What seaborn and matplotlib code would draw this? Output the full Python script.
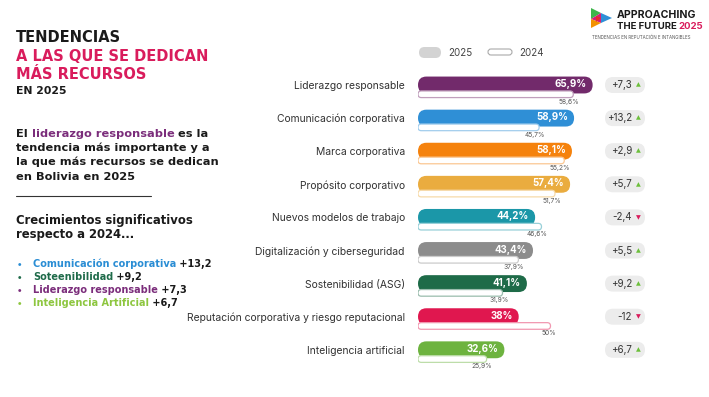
import matplotlib.pyplot as plt
import numpy as np
import seaborn as sns
from matplotlib.colors import to_rgb
from matplotlib.patches import FancyBboxPatch, Polygon

# --- datos ---
categories = [
    "Liderazgo responsable",
    "Comunicación corporativa",
    "Marca corporativa",
    "Propósito corporativo",
    "Nuevos modelos de trabajo",
    "Digitalización y ciberseguridad",
    "Sostenibilidad (ASG)",
    "Reputación corporativa y riesgo reputacional",
    "Inteligencia artificial",
]
values_2025 = [65.9, 58.9, 58.1, 57.4, 44.2, 43.4, 41.1, 38.0, 32.6]
values_2024 = [58.6, 45.7, 55.2, 51.7, 46.6, 37.9, 31.9, 50.0, 25.9]
labels_2025 = ["65,9%", "58,9%", "58,1%", "57,4%", "44,2%", "43,4%", "41,1%", "38%", "32,6%"]
labels_2024 = ["58,6%", "45,7%", "55,2%", "51,7%", "46,6%", "37,9%", "31,9%", "50%", "25,9%"]
delta_labels = ["+7,3", "+13,2", "+2,9", "+5,7", "-2,4", "+5,5", "+9,2", "-12", "+6,7"]
delta_up = [True, True, True, True, False, True, True, False, True]
bar_colors = ["#722a6b", "#2f8fd6", "#f5820d", "#eaac3f", "#1b97a8",
              "#8c8c8c", "#1e6b48", "#e0174f", "#6db33f"]

CRIMSON = "#d91c5c"
PURPLE = "#7b2d7b"
DARK = "#1a1a1a"
GREEN_UP = "#6cbf3b"

W, H = 709, 397
sns.set_theme(style="white")
plt.rcParams["font.family"] = ["Inter", "DejaVu Sans"]
TITLE_FONT = ["DejaVu Sans"]

fig = plt.figure(figsize=(W / 100, H / 100), dpi=100)
fig.patch.set_facecolor("white")


def fx(x):
    return x / W


def fy(y):
    return 1 - y / H


# --- ejes de barras (escala en px) ---
AX_L, AX_R, AX_T, AX_B = 418, 700, 68, 370
PX_X = 2.65      # px por punto porcentual
ROW_PX = 33.1    # px entre filas
ROW0 = 85        # centro de la primera fila (px)
ax = fig.add_axes([fx(AX_L), fy(AX_B), (AX_R - AX_L) / W, (AX_B - AX_T) / H])

sns.barplot(x=values_2025, y=categories, hue=categories, palette=bar_colors,
            legend=False, orient="h", width=0.51, saturation=1, ax=ax)
aspect = PX_X / ROW_PX


def to_pills(patches, face=None, edge=None, lw=0, z=2):
    for k, p in enumerate(list(patches)):
        x0, y0, w, h = p.get_x(), p.get_y(), p.get_width(), p.get_height()
        fc = p.get_facecolor() if face is None else face[k]
        p.remove()
        r = h / aspect / 2
        ax.add_patch(FancyBboxPatch(
            (x0, y0), w, h, boxstyle=f"round,pad=0,rounding_size={r}",
            mutation_aspect=aspect, fc=fc,
            ec="none" if edge is None else edge[k], lw=lw, zorder=z))


to_pills(ax.patches)

light = [tuple(0.45 * np.array(to_rgb(c)) + 0.55) for c in bar_colors]
bars24 = ax.barh(np.arange(len(categories)) + 0.28, values_2024, height=0.2)
to_pills(bars24.patches, face=["white"] * len(categories), edge=light, lw=0.9, z=3)

for i in range(len(categories)):
    ax.text(values_2025[i] - 2.3, i - 0.03, labels_2025[i], ha="right", va="center",
            color="white", fontsize=7, fontweight="bold", zorder=5)
    ax.text(values_2024[i] + 2.2, i + 0.5, labels_2024[i], ha="right", va="center",
            color="#555555", fontsize=4.8, zorder=5)
    # píldora de variación
    ph = 16 / ROW_PX
    ax.add_patch(FancyBboxPatch(
        ((605 - AX_L) / PX_X, i - ph / 2), 40 / PX_X, ph,
        boxstyle=f"round,pad=0,rounding_size={ph / aspect / 2}",
        mutation_aspect=aspect, fc="#ececec", ec="none", zorder=2))
    ax.text((632 - AX_L) / PX_X, i, delta_labels[i], ha="right", va="center",
            fontsize=7, color="#333333", zorder=5)
    ax.text((638 - AX_L) / PX_X, i, "▲" if delta_up[i] else "▼", ha="center",
            va="center", fontsize=4.5, family=["DejaVu Sans"],
            color=GREEN_UP if delta_up[i] else CRIMSON, zorder=5)

ax.set_xlim(0, (AX_R - AX_L) / PX_X)
ax.set_ylim((AX_B - ROW0) / ROW_PX, (AX_T - ROW0) / ROW_PX)
ax.set_xticks([])
ax.set_xlabel("")
ax.set_ylabel("")
ax.tick_params(axis="y", length=0, pad=9.5, labelsize=7.45, labelcolor="#333333")
for s in ax.spines.values():
    s.set_visible(False)
ax.set_facecolor("none")

# --- leyenda ---
tr = fig.dpi_scale_trans
fig.add_artist(FancyBboxPatch((4.19, (H - 58) / 100), 0.22, 0.11,
                              boxstyle="round,pad=0,rounding_size=0.055",
                              fc="#d3d3d3", ec="none", transform=tr))
fig.text(fx(448), fy(52.5), "2025", fontsize=7, color="#444444", va="center")
fig.add_artist(FancyBboxPatch((4.88, (H - 55) / 100), 0.24, 0.06,
                              boxstyle="round,pad=0,rounding_size=0.03",
                              fc="white", ec="#aaaaaa", lw=0.8, transform=tr))
fig.text(fx(519), fy(52.5), "2024", fontsize=7, color="#444444", va="center")

# --- textos de la izquierda ---
fig.text(fx(16), fy(42), "TENDENCIAS", fontsize=10.5, fontweight="bold",
         family=TITLE_FONT, color=DARK)
fig.text(fx(16), fy(61), "A LAS QUE SE DEDICAN", fontsize=10.5, fontweight="bold",
         family=TITLE_FONT, color=CRIMSON)
fig.text(fx(16), fy(79), "MÁS RECURSOS", fontsize=10.5, fontweight="bold",
         family=TITLE_FONT, color=CRIMSON)
fig.text(fx(16), fy(94), "EN 2025", fontsize=7.8, fontweight="bold",
         family=TITLE_FONT, color=DARK)

renderer = fig.canvas.get_renderer()


def rich_line(x, y, parts, size, family=TITLE_FONT, gap=0):
    for s, c in parts:
        t = fig.text(fx(x), fy(y), s, color=c, fontsize=size, fontweight="bold",
                     family=family, va="baseline")
        x += t.get_window_extent(renderer).width + gap


rich_line(16, 137, [("El", DARK), (" liderazgo responsable", PURPLE), (" es la", DARK)], 8.2)
rich_line(16, 151, [("tendencia más importante y a", DARK)], 8.2)
rich_line(16, 165, [("la que más recursos se dedican", DARK)], 8.2)
rich_line(16, 180, [("en Bolivia en 2025", DARK)], 8.2)
fig.add_artist(plt.Line2D([fx(16), fx(151)], [fy(196), fy(196)], color="#333333", lw=0.8))

rich_line(16, 224, [("Crecimientos significativos", DARK)], 8.4)
rich_line(16, 238, [("respecto a 2024...", DARK)], 8.4)

bullets = [
    ("Comunicación corporativa", "#2a8dd4", " +13,2"),
    ("Soteenibilidad", "#1f6b4a", " +9,2"),
    ("Liderazgo responsable", PURPLE, " +7,3"),
    ("Inteligencia Artificial", "#8dc63f", " +6,7"),
]
for k, (name, col, val) in enumerate(bullets):
    yb = 267 + k * 13
    fig.text(fx(17), fy(yb), "•", color=col, fontsize=7, va="baseline")
    rich_line(33, yb, [(name, col), (val, DARK)], 7.0)

# --- logotipo ---
icon = [
    ([(591, 8), (601, 13), (591, 19)], "#3cb54a"),
    ([(601, 13), (612, 18), (601, 23)], "#2f8fd6"),
    ([(591, 19), (601, 13), (601, 23)], "#d81b7a"),
    ([(591, 19), (601, 23), (591, 28)], "#f39200"),
    ([(596, 16), (601, 18), (596, 22)], "#e52d27"),
]
for pts, col in icon:
    fig.add_artist(Polygon([(px / 100, (H - py) / 100) for px, py in pts],
                           closed=True, fc=col, ec="none", transform=tr))
rich_line(617, 18, [("APPROACHING", DARK)], 7.6, family=["Inter"])
rich_line(617, 29, [("THE FUTURE", DARK), ("2025", CRIMSON)], 6.9, family=["Inter"], gap=1.5)
fig.text(fx(592), fy(39), "TENDENCIAS EN REPUTACIÓN E INTANGIBLES", fontsize=3.2,
         color="#555555", va="baseline")

fig.savefig("out.png", dpi=100, facecolor="white")
